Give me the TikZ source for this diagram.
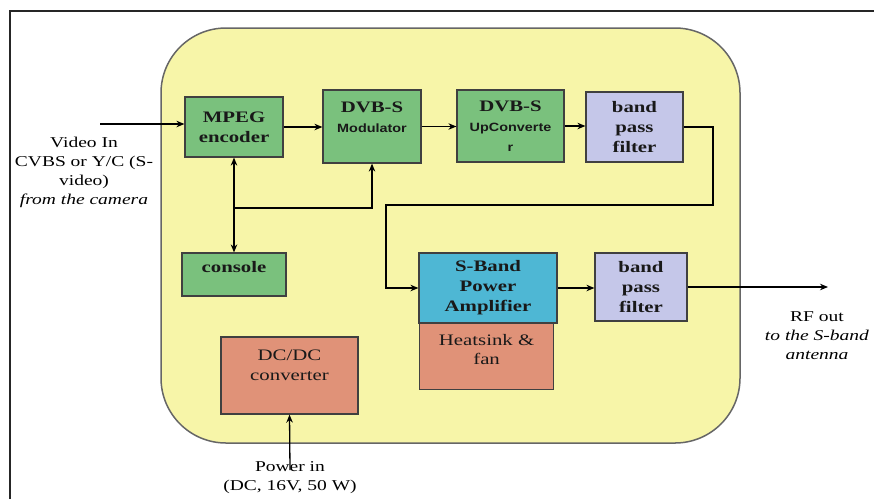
\documentclass[tikz,border=0pt]{standalone}
\usepackage{fontspec}
\setmainfont{Liberation Serif}[FakeStretch=1.3]
\setsansfont{Liberation Sans}[FakeStretch=1.2]
\usetikzlibrary{shapes.geometric, arrows, arrows.meta, positioning}
\definecolor{boardyel}{RGB}{247,245,168}
\definecolor{boxgreen}{RGB}{122,193,125}
\definecolor{boxlav}{RGB}{197,199,233}
\definecolor{boxcyan}{RGB}{78,183,212}
\definecolor{boxsalmon}{RGB}{224,146,120}
\newcommand{\blksans}{\sffamily\bfseries\fontsize{12}{18}\selectfont}
\tikzstyle{blk} = [rectangle, draw=black!75, line width=1.2pt, text=black!90, align=center, inner sep=0pt, font=\fontsize{16}{20}\selectfont\bfseries]
\tikzstyle{gbox} = [blk, fill=boxgreen]
\tikzstyle{lbox} = [blk, fill=boxlav]
\tikzstyle{cbox} = [blk, fill=boxcyan]
\tikzstyle{sbox} = [blk, fill=boxsalmon, font=\fontsize{16}{19}\selectfont]
\tikzstyle{intxt} = [align=center, inner sep=0pt, text=black!90]
\tikzstyle{txt} = [align=center, inner sep=0pt, font=\fontsize{15}{19}\selectfont]
\tikzstyle{arrow} = [line width=1.3pt,->,>={Stealth[length=8pt,width=6.5pt]}]

\begin{document}
\begin{tikzpicture}[x=1pt,y=-1pt]
\useasboundingbox (0,0) rectangle (874,499);
\draw[line width=1.2pt,black!85] (10,499)--(10,11)--(874,11);
\draw[draw=black!60, line width=1.5pt, fill=boardyel, rounded corners=65pt] (161,28) rectangle (740,443);

% top row
\node[gbox, minimum width=98pt, minimum height=60pt] (mpeg) at (234,127) {MPEG\\encoder};
\node[gbox, minimum width=98pt, minimum height=73pt] (mod) at (372,126.5) {};
\node[intxt, font=\fontsize{16}{20}\selectfont\bfseries, below=12pt of mod.north] (modtxt) {DVB-S\\{\blksans Modulator}};
\node[gbox, minimum width=107pt, minimum height=72pt] (upc) at (510.5,126) {DVB-S\\{\blksans UpConverte}\\{\blksans r}};
\node[lbox, minimum width=97pt, minimum height=70pt] (bpfa) at (634.5,127) {band\\pass\\filter};

% second row
\node[gbox, minimum width=104pt, minimum height=43pt] (console) at (234,274.5) {};
\node[intxt, font=\fontsize{16}{20}\selectfont\bfseries, below=9pt of console.north] (contxt) {console};
\node[sbox, minimum width=134pt, minimum height=66pt, anchor=north west] (heat) at (419,323) {};
\node[intxt, font=\fontsize{16}{19}\selectfont, below=11pt of heat.north] (heattxt) {Heatsink \&\\fan};
\node[cbox, minimum width=138pt, minimum height=70pt] (amp) at (488,288) {S-Band\\Power\\Amplifier};
\node[lbox, minimum width=92pt, minimum height=68pt] (bpfb) at (641,287) {band\\pass\\filter};
\node[sbox, minimum width=137pt, minimum height=77pt] (dcdc) at (289.5,375.5) {};
\node[intxt, font=\fontsize{16}{20}\selectfont, below=13pt of dcdc.north] (dcdctxt) {DC/DC\\converter};

% outside texts
\node[txt] (vidin) at (84,172.5) {Video In\\CVBS or Y/C (S-\\video)\\\textit{from the camera}};
\node[txt] (rftxt) at (817,336) {RF out\\\textit{to the S-band}\\\textit{antenna}};
\node[txt] (pwrtxt) at (290,477.5) {Power in\\(DC, 16V, 50 W)};

% connectors
\coordinate (vin) at (100,124);
\coordinate (loopR) at (713,205);
\coordinate (loopL) at (386,205);
\coordinate (cj) at (234,208);
\coordinate (rfout) at (828,287);
\coordinate (pin) at (290,470);
\draw[arrow] (vin) -- (vin -| mpeg.west);
\draw[arrow] (mpeg.east) -- (mpeg.east -| mod.west);
\draw[arrow] (mod.east) -- (mod.east -| upc.west);
\draw[arrow] (upc.east) -- (upc.east -| bpfa.west);
\draw[arrow] (bpfa.east) -| (loopR) -- (loopL) |- (amp.west);
\draw[arrow] (amp.east) -- (amp.east -| bpfb.west);
\draw[arrow] (bpfb.east) -- (rfout);
\draw[arrow,<->] (mpeg.south) -- (console.north);
\draw[arrow] (cj) -| (mod.south);
\draw[arrow] (pin) -- (dcdc.south);
\end{tikzpicture}
\end{document}
